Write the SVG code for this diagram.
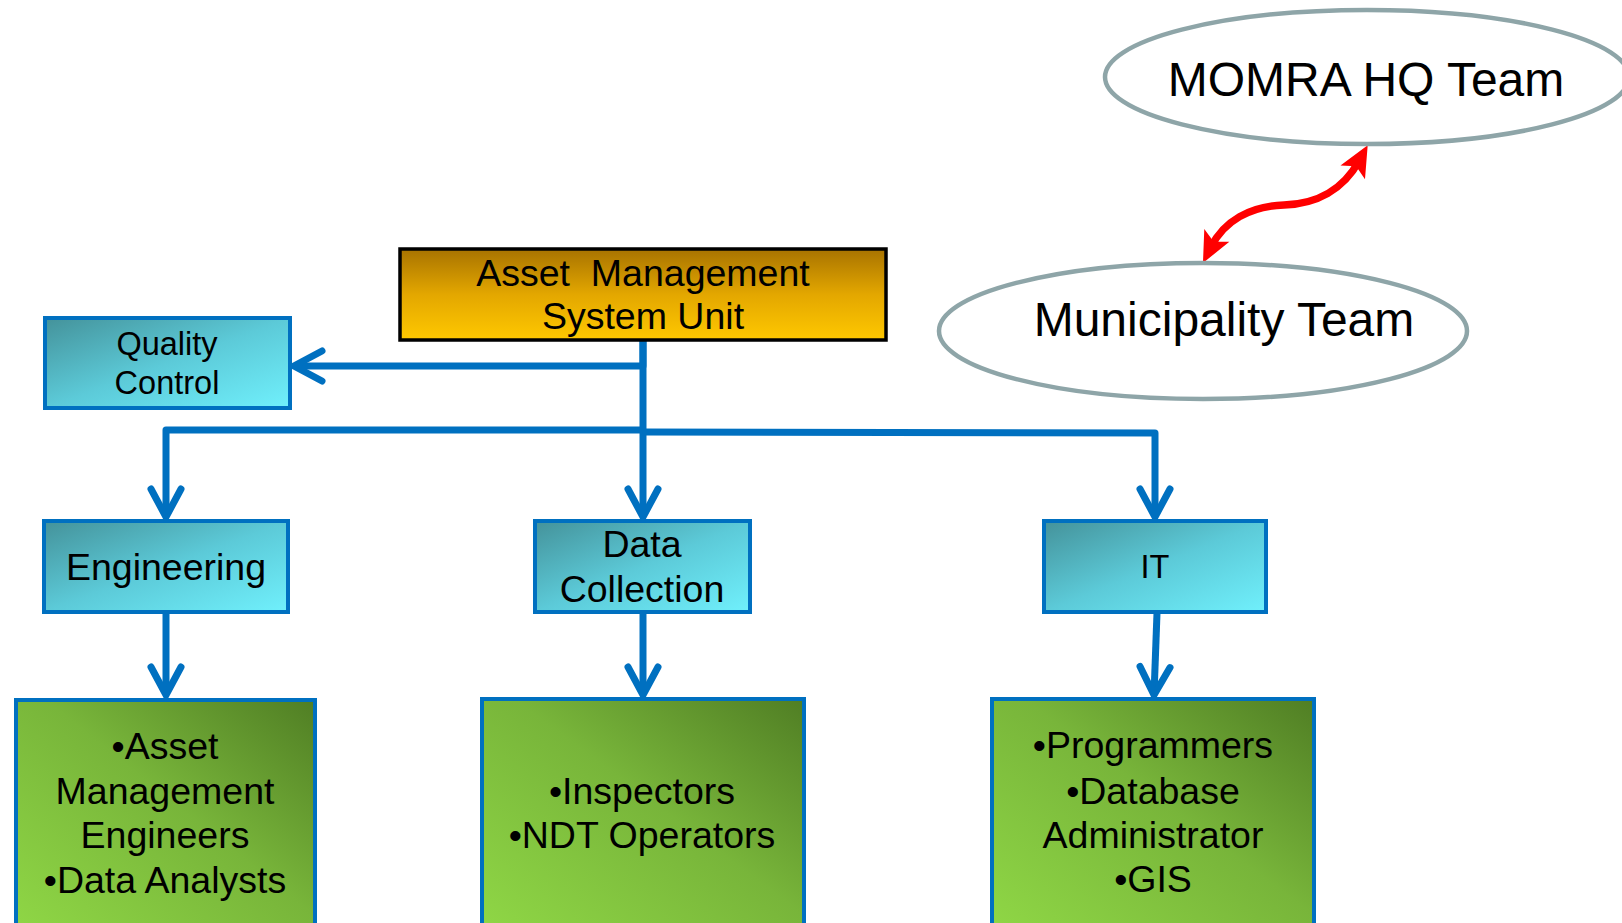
<svg xmlns="http://www.w3.org/2000/svg" width="1622" height="923" viewBox="0 0 1622 923">
  <defs>
    <linearGradient id="teal" x1="0" y1="0" x2="1" y2="1">
      <stop offset="0" stop-color="#44929A"/>
      <stop offset="0.5" stop-color="#5CCAD8"/>
      <stop offset="1" stop-color="#70F0FC"/>
    </linearGradient>
    <linearGradient id="gold" x1="0" y1="0" x2="0" y2="1">
      <stop offset="0" stop-color="#A87300"/>
      <stop offset="0.5" stop-color="#E3A700"/>
      <stop offset="1" stop-color="#FFC800"/>
    </linearGradient>
    <linearGradient id="green" x1="0" y1="1" x2="1" y2="0">
      <stop offset="0" stop-color="#90D846"/>
      <stop offset="0.55" stop-color="#78B53A"/>
      <stop offset="1" stop-color="#507E24"/>
    </linearGradient>
    <marker id="chev" markerUnits="userSpaceOnUse" markerWidth="40" markerHeight="40" viewBox="-34 -20 40 40" refX="0" refY="0" orient="auto">
      <path d="M-28,-15 L0,0 L-28,15" fill="none" stroke="#0070C0" stroke-width="7" stroke-linecap="round" stroke-linejoin="miter"/>
    </marker>
    <marker id="red" markerUnits="userSpaceOnUse" markerWidth="50" markerHeight="50" viewBox="-40 -25 50 50" refX="-18" refY="0" orient="auto-start-reverse">
      <path d="M0,0 L-31,-14 L-24,0 L-31,14 Z" fill="#FF0000"/>
    </marker>
  </defs>
  <style>
    .t { font-family: "Liberation Sans", Arial, sans-serif; fill: #000; text-anchor: middle; }
    .blue { fill: url(#teal); stroke: #0070C0; stroke-width: 4; }
    .grn { fill: url(#green); stroke: #0070C0; stroke-width: 4; }
    .ell { fill: #FFFFFF; stroke: #8EA5A8; stroke-width: 4.5; }
    .con { fill: none; stroke: #0070C0; stroke-width: 7; stroke-linejoin: round; }
    .big { font-size: 37.5px; }
    .small { font-size: 32.5px; }
    .huge { font-size: 48px; }
  </style>

  <g id="connectors">
    <path class="con" d="M643,340 L643,366 L294,366" marker-end="url(#chev)"/>
    <path class="con" d="M643,340 L643,517" marker-end="url(#chev)"/>
    <path class="con" d="M643,430 L166,430 L166,517" marker-end="url(#chev)"/>
    <path class="con" d="M643,432 L1155,433 L1155,517" marker-end="url(#chev)"/>
    <path class="con" d="M166,613 L166,695" marker-end="url(#chev)"/>
    <path class="con" d="M643,613 L643,695" marker-end="url(#chev)"/>
    <path class="con" d="M1157,613 L1154,695" marker-end="url(#chev)"/>
    <path d="M1359,161 C1343,190 1316,204 1284,205 C1250,206 1224,221 1211,247" fill="none" stroke="#FF0000" stroke-width="7.5" marker-start="url(#red)" marker-end="url(#red)"/>
  </g>

  <g id="momra">
    <ellipse class="ell" cx="1367" cy="77" rx="262" ry="67"/>
    <text class="t huge" x="1366" y="96">MOMRA HQ Team</text>
  </g>

  <g id="municipality">
    <ellipse class="ell" cx="1203" cy="331" rx="264" ry="68"/>
    <text class="t huge" x="1224" y="336">Municipality Team</text>
  </g>

  <g id="amsu">
    <rect x="400" y="249" width="486" height="91" fill="url(#gold)" stroke="#000" stroke-width="3.5"/>
    <text class="t big" x="643" y="286" xml:space="preserve">Asset  Management</text>
    <text class="t big" x="643" y="329">System Unit</text>
  </g>

  <g id="quality">
    <rect class="blue" x="45" y="318" width="245" height="90"/>
    <text class="t small" x="167" y="355">Quality</text>
    <text class="t small" x="167" y="394">Control</text>
  </g>

  <g id="engineering">
    <rect class="blue" x="44" y="521" width="244" height="91"/>
    <text class="t big" x="166" y="580">Engineering</text>
  </g>

  <g id="datacollection">
    <rect class="blue" x="535" y="521" width="215" height="91"/>
    <text class="t big" x="642" y="557">Data</text>
    <text class="t big" x="642" y="602">Collection</text>
  </g>

  <g id="it">
    <rect class="blue" x="1044" y="521" width="222" height="91"/>
    <text class="t small" x="1155" y="578">IT</text>
  </g>

  <g id="eng-staff">
    <rect class="grn" x="16" y="700" width="299" height="240"/>
    <text class="t big" x="165" y="759">•Asset</text>
    <text class="t big" x="165" y="804">Management</text>
    <text class="t big" x="165" y="848">Engineers</text>
    <text class="t big" x="165" y="893">•Data Analysts</text>
  </g>

  <g id="dc-staff">
    <rect class="grn" x="482" y="699" width="322" height="240"/>
    <text class="t big" x="642" y="804">•Inspectors</text>
    <text class="t big" x="642" y="848">•NDT Operators</text>
  </g>

  <g id="it-staff">
    <rect class="grn" x="992" y="699" width="322" height="240"/>
    <text class="t big" x="1153" y="758">•Programmers</text>
    <text class="t big" x="1153" y="804">•Database</text>
    <text class="t big" x="1153" y="848">Administrator</text>
    <text class="t big" x="1153" y="892">•GIS</text>
  </g>
</svg>
